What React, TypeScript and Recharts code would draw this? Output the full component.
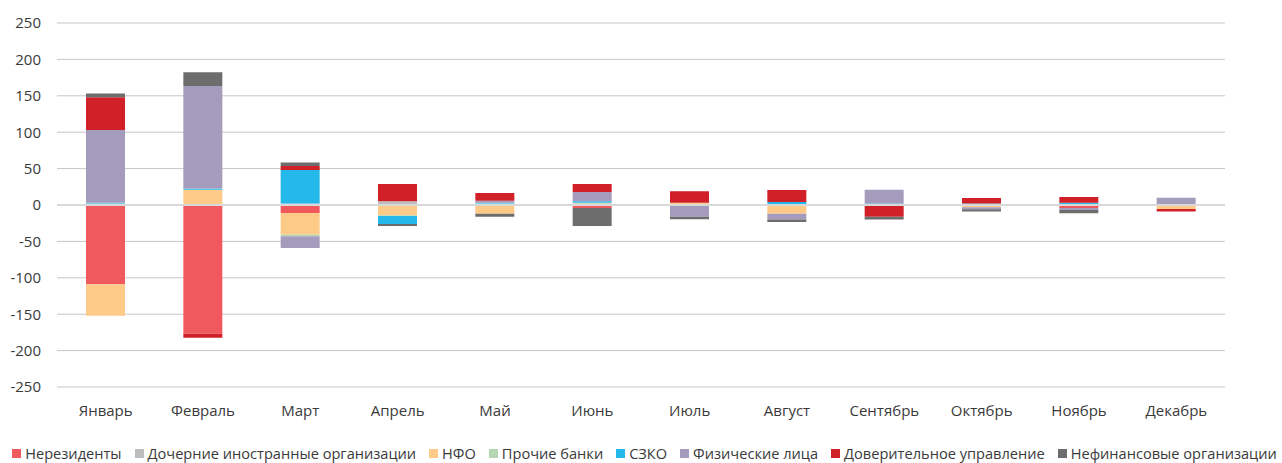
import React from 'react';
import { BarChart, Bar, XAxis, YAxis, CartesianGrid, Legend, ReferenceLine } from 'recharts';

const months = ['Январь', 'Февраль', 'Март', 'Апрель', 'Май', 'Июнь', 'Июль', 'Август', 'Сентябрь', 'Октябрь', 'Ноябрь', 'Декабрь'];

const nonResidents = [-109, -177, -11, -1, -1, -4, 0, 0, -1, 0, -4, -1.5];
const subsidiaries = [1, 0, 2, 5, 1, 0, 1, 0, 0, 0, 0, 0];
const nfo = [-43, 21, -30, -13, -11, 2, 2, -12, 0, -3, 1, -4];
const otherBanks = [1, 0, -2, -1, 1, 1, 0, 0, 0, 0, 0, 0];
const szko = [1, 1.5, 46, -11, 1, 2, 0, 4, 2, 2, 2, 1];
const individuals = [100, 141, -16, 0, 3, 13, -16, -8, 19, -3, -3, 9];
const trust = [45, -5.5, 5.5, 24, 10.5, 11, 16, 16.5, -15, 7.5, 8, -3.5];
const nonFinancial = [5, 19, 5, -3, -4, -25, -3.5, -3.5, -4, -3, -4.5, 0];

const yTicks = [-250, -200, -150, -100, -50, 0, 50, 100, 150, 200, 250];

const series = [
    { key: 'nonResidents', name: 'Нерезиденты', color: '#f05a5f', values: nonResidents },
    { key: 'subsidiaries', name: 'Дочерние иностранные организации', color: '#bdbdbd', values: subsidiaries },
    { key: 'nfo', name: 'НФО', color: '#fdca88', values: nfo },
    { key: 'otherBanks', name: 'Прочие банки', color: '#b5d6b3', values: otherBanks },
    { key: 'szko', name: 'СЗКО', color: '#24b9ea', values: szko },
    { key: 'individuals', name: 'Физические лица', color: '#a59bbd', values: individuals },
    { key: 'trust', name: 'Доверительное управление', color: '#d12027', values: trust },
    { key: 'nonFinancial', name: 'Нефинансовые организации', color: '#6d6d6d', values: nonFinancial },
];

const data = months.map((month, i) => {
    const row: Record<string, any> = { month };
    series.forEach(s => { row[s.key] = s.values[i]; });
    return row;
});

const FONT = '"Open Sans", sans-serif';
const TEXT = '#3a3a3a';

function ChartLegend() {
    return (
        <div style={{ width: 1282, display: 'flex', justifyContent: 'center', paddingTop: 21, paddingLeft: 7, boxSizing: 'border-box', fontFamily: FONT, fontSize: 14.6, color: TEXT, lineHeight: '18px', whiteSpace: 'nowrap' }}>
            {series.map((s, i) => (
                <div key={s.key} style={{ display: 'flex', alignItems: 'center', marginRight: i === series.length - 1 ? 0 : 13 }}>
                    <span style={{ width: 9, height: 9, background: s.color, marginRight: 4, display: 'inline-block' }} />
                    <span>{s.name}</span>
                </div>
            ))}
        </div>
    );
}

export default function App() {
    return (
        <div style={{ width: 1282, height: 463, background: '#fff' }}>
            <style>{'body{margin:0}'}</style>
            <BarChart
                width={1282}
                height={463}
                data={data}
                stackOffset="sign"
                margin={{ top: 23, right: 57, left: 0, bottom: 0 }}
            >
                <CartesianGrid vertical={false} stroke="#c6c6c6" />
                <XAxis
                    dataKey="month"
                    height={36}
                    axisLine={false}
                    tickLine={false}
                    tickSize={0}
                    tickMargin={18}
                    tick={{ fontFamily: FONT, fontSize: 15, fill: TEXT }}
                />
                <YAxis
                    width={57}
                    domain={[-250, 250]}
                    ticks={yTicks}
                    axisLine={false}
                    tickLine={false}
                    tickSize={0}
                    tickMargin={16}
                    tick={{ fontFamily: FONT, fontSize: 15, fill: TEXT }}
                />
                {series.map(s => (
                    <Bar key={s.key} dataKey={s.key} name={s.name} stackId="a" fill={s.color} barSize={39} isAnimationActive={false} />
                ))}
                <ReferenceLine y={0} stroke="#d9d9d9" strokeWidth={2} />
                <Legend verticalAlign="bottom" height={40} wrapperStyle={{ left: 0, width: 1282 }} content={() => <ChartLegend />} />
            </BarChart>
        </div>
    );
}
